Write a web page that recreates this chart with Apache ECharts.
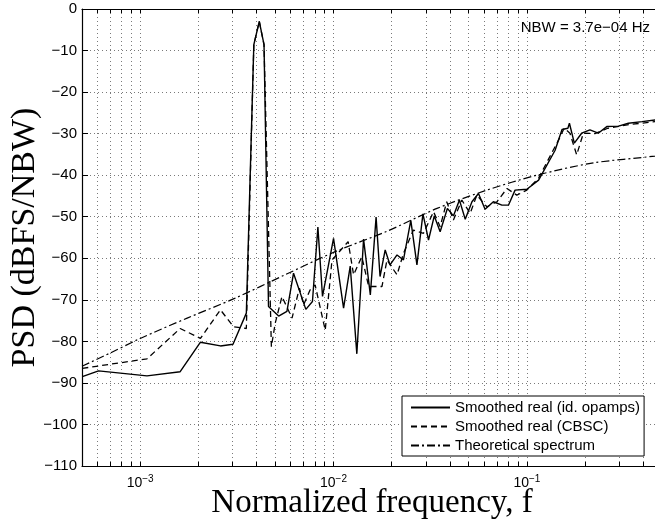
<!DOCTYPE html>
<html><head><meta charset="utf-8">
<script src="https://cdn.jsdelivr.net/npm/echarts@6/dist/echarts.min.js"></script>
<style>html,body{margin:0;padding:0;background:#fff}#c{width:655px;height:519px}</style>
</head><body><div id="c"></div>
<script>
// ---- data ----
const seriesNames = ['Smoothed real (id. opamps)', 'Smoothed real (CBSC)', 'Theoretical spectrum'];

const freqSolid = [5.02e-4, 6.09e-4, 1.084e-3, 1.61e-3, 2.05e-3, 2.60e-3, 3.02e-3, 3.54e-3, 3.87e-3, 4.13e-3, 4.37e-3, 4.61e-3, 5.20e-3, 5.74e-3, 6.21e-3, 7.19e-3, 7.78e-3, 8.30e-3, 8.77e-3, 1.00e-2, 1.127e-2, 1.22e-2, 1.32e-2, 1.43e-2, 1.55e-2, 1.66e-2, 1.74e-2, 1.85e-2, 1.96e-2, 2.13e-2, 2.30e-2, 2.51e-2, 2.70e-2, 2.90e-2, 3.10e-2, 3.32e-2, 3.56e-2, 3.88e-2, 4.17e-2, 4.48e-2, 4.80e-2, 5.20e-2, 5.62e-2, 6.08e-2, 6.71e-2, 7.43e-2, 8.04e-2, 8.69e-2, 0.100, 0.115, 0.140, 0.152, 0.163, 0.166, 0.176, 0.192, 0.212, 0.234, 0.259, 0.298, 0.335, 0.394, 0.460, 0.500];
const psdSolid = [-88.5, -87.1, -88.3, -87.3, -80.2, -81.1, -80.7, -73.2, -8.6, -3.0, -8.6, -71.6, -73.9, -72.8, -63.6, -72.3, -70.4, -52.5, -69.2, -55.2, -72.0, -61.9, -83.0, -55.4, -68.8, -50.1, -64.4, -58.0, -61.6, -59.2, -60.4, -50.9, -61.6, -49.3, -55.6, -49.8, -53.6, -48.0, -49.8, -46.0, -50.6, -46.4, -44.4, -48.2, -46.4, -47.2, -47.2, -43.6, -43.4, -41.2, -34.0, -29.0, -28.7, -27.5, -32.3, -29.9, -29.1, -29.9, -28.3, -28.2, -27.5, -27.1, -26.7, -26.5];

const freqCbsc = [5.02e-4, 1.084e-3, 1.61e-3, 2.05e-3, 2.60e-3, 3.04e-3, 3.54e-3, 3.87e-3, 4.13e-3, 4.37e-3, 4.77e-3, 4.99e-3, 5.41e-3, 6.10e-3, 6.66e-3, 7.00e-3, 7.57e-3, 8.03e-3, 9.06e-3, 9.82e-3, 1.19e-2, 1.27e-2, 1.40e-2, 1.52e-2, 1.78e-2, 1.89e-2, 2.13e-2, 2.30e-2, 2.59e-2, 2.92e-2, 3.29e-2, 3.56e-2, 3.85e-2, 4.17e-2, 4.61e-2, 5.09e-2, 5.51e-2, 6.21e-2, 7.00e-2, 7.89e-2, 8.87e-2, 0.100, 0.115, 0.146, 0.156, 0.167, 0.181, 0.196, 0.225, 0.262, 0.342, 0.460, 0.500];
const psdCbsc = [-86.5, -84.2, -76.9, -79.3, -72.4, -76.5, -76.9, -8.6, -3.0, -8.6, -81.3, -75.7, -69.2, -74.4, -67.2, -71.2, -67.6, -66.4, -77.3, -60.4, -56.0, -64.0, -59.6, -66.8, -66.8, -60.4, -64.0, -58.8, -53.2, -54.0, -48.8, -52.4, -46.4, -50.8, -46.0, -49.2, -44.8, -47.6, -46.4, -43.2, -44.8, -43.6, -40.7, -31.5, -28.7, -29.9, -35.1, -29.9, -30.0, -28.7, -27.8, -27.1, -26.9];

const freqTheory = [5.0e-4, 7.0e-4, 1.0e-3, 1.75e-3, 3.1e-3, 5.6e-3, 1.02e-2, 1.89e-2, 3.43e-2, 6.21e-2, 0.1127, 0.217, 0.46, 0.5];
const psdTheory = [-86.0, -82.8, -79.3, -74.4, -69.6, -64.0, -58.4, -53.5, -48.0, -43.6, -40.0, -37.1, -35.4, -35.1];

const xMajorTicks = [1e-3, 1e-2, 1e-1];
const xMinorTicks = [6e-4, 7e-4, 8e-4, 9e-4, 2e-3, 3e-3, 4e-3, 5e-3, 6e-3, 7e-3, 8e-3, 9e-3, 2e-2, 3e-2, 4e-2, 5e-2, 6e-2, 7e-2, 8e-2, 9e-2, 2e-1, 3e-1, 4e-1];
const xRange = [5e-4, 0.5];
const yRange = [-110, 0];
const yStep = 10;
const nbwText = 'NBW = 3.7e\u221204 Hz';
const xTitle = 'Normalized frequency, f';
const yTitle = 'PSD (dBFS/NBW)';

// ---- chart ----
const zip = (a, b) => a.map((v, i) => [v, b[i]]);
const allXTicks = xMajorTicks.concat(xMinorTicks).sort((a, b) => a - b);
const SANS = 'Liberation Sans';
const SERIF = 'Liberation Serif';
const gridDot = { color: '#7a7a7a', width: 1, type: [1, 3] };

const chart = echarts.init(document.getElementById('c'), null, { renderer: 'canvas' });
chart.setOption({
  animation: false,
  backgroundColor: '#fff',
  grid: { left: 82, top: 9, right: -7, bottom: 53, containLabel: false, outerBoundsMode: 'none' },
  xAxis: [{
    type: 'log', logBase: 10, min: xRange[0], max: xRange[1], position: 'bottom',
    axisLine: { show: true, onZero: false, lineStyle: { color: '#000', width: 1.2 } },
    axisTick: { show: true, inside: true, length: 4, customValues: allXTicks, lineStyle: { color: '#000' } },
    minorTick: { show: false },
    axisLabel: {
      show: true, customValues: xMajorTicks, margin: 8, color: '#000',
      formatter: v => '{b|10}{s|\u2212' + Math.round(-Math.log10(v)) + '}',
      rich: {
        b: { fontFamily: SANS, fontSize: 14, color: '#000' },
        s: { fontFamily: SANS, fontSize: 10, color: '#000', padding: [0, 0, 8, 0] }
      }
    },
    splitLine: { show: true, lineStyle: gridDot },
    name: xTitle, nameLocation: 'middle', nameGap: 21, nameMoveOverlap: false,
    nameTextStyle: { fontFamily: SERIF, fontSize: 33, color: '#000' }
  }, {
    type: 'log', logBase: 10, min: xRange[0], max: xRange[1], position: 'top',
    axisLine: { show: true, onZero: false, lineStyle: { color: '#000', width: 1.2 } },
    axisTick: { show: true, inside: true, length: 4, customValues: allXTicks, lineStyle: { color: '#000' } },
    axisLabel: { show: false }, splitLine: { show: false }
  }],
  yAxis: [{
    type: 'value', min: yRange[0], max: yRange[1], interval: yStep, position: 'left',
    axisLine: { show: true, onZero: false, lineStyle: { color: '#000', width: 1.2 } },
    axisTick: { show: true, inside: true, length: 6, lineStyle: { color: '#000' } },
    axisLabel: { color: '#000', fontFamily: SANS, fontSize: 15, margin: 5,
      formatter: v => String(v).replace('-', '\u2212') },
    splitLine: { show: true, lineStyle: gridDot },
    name: yTitle, nameLocation: 'middle', nameGap: 40, nameMoveOverlap: false,
    nameTextStyle: { fontFamily: SERIF, fontSize: 34, color: '#000' }
  }],
  legend: {
    data: seriesNames, orient: 'vertical', left: 402, top: 396,
    padding: [4, 4, 3, 8], itemGap: 4, itemWidth: 39, itemHeight: 14,
    backgroundColor: '#fff', borderColor: '#000', borderWidth: 1, borderRadius: 0,
    textStyle: { fontFamily: SANS, fontSize: 15, color: '#000' },
    itemStyle: { opacity: 0, borderWidth: 0 }
  },
  graphic: [{
    type: 'text', right: 5, top: 20,
    style: { text: nbwText, fontFamily: SANS, fontSize: 15, fill: '#000' }
  }],
  series: [{
    name: seriesNames[0], type: 'line', data: zip(freqSolid, psdSolid),
    symbol: 'none', lineStyle: { color: '#000', width: 1.4, type: 'solid' }, itemStyle: { color: '#000' }
  }, {
    name: seriesNames[1], type: 'line', data: zip(freqCbsc, psdCbsc),
    symbol: 'none', lineStyle: { color: '#000', width: 1.3, type: [6, 4] }, itemStyle: { color: '#000' }
  }, {
    name: seriesNames[2], type: 'line', data: zip(freqTheory, psdTheory), smooth: 0.3,
    symbol: 'none', lineStyle: { color: '#000', width: 1.2, type: [8, 3, 2, 3] }, itemStyle: { color: '#000' }
  }]
});
</script></body></html>
